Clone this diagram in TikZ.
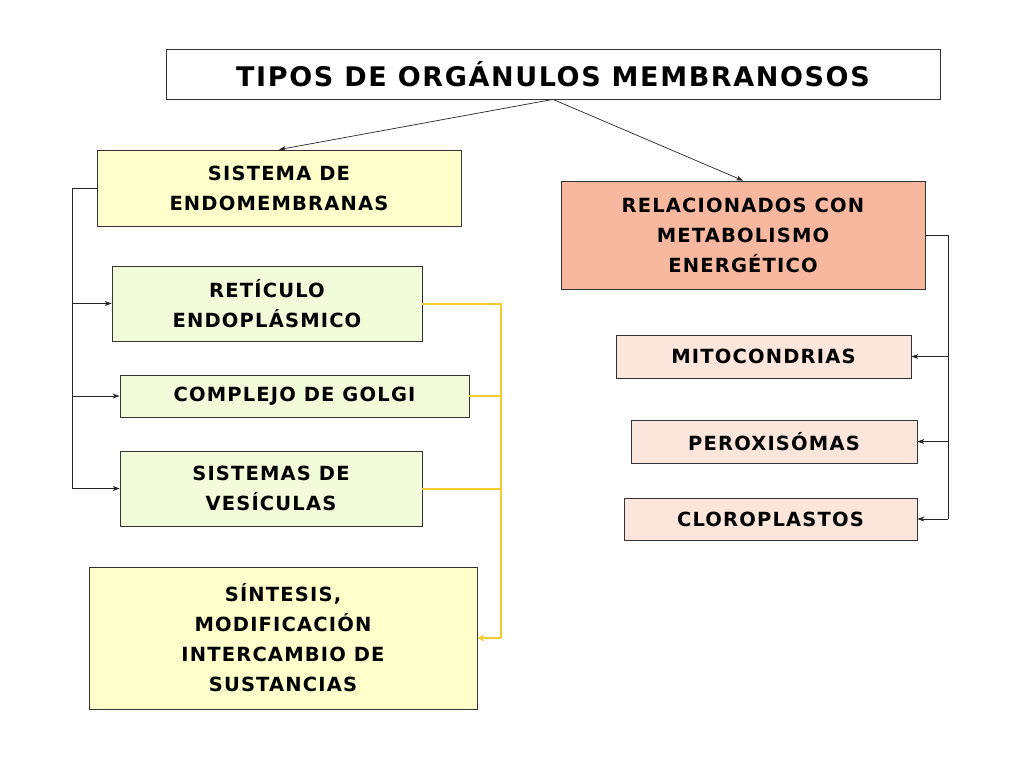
\documentclass[tikz,border=0pt]{standalone}
\usepackage{fontspec}
\setmainfont{DejaVu Sans}[LetterSpace=6]
\usetikzlibrary{arrows.meta}
\definecolor{ly}{HTML}{FFFFCC}
\definecolor{lg}{HTML}{F2FCDA}
\definecolor{sal}{HTML}{F7B89F}
\definecolor{lp}{HTML}{FCE6DC}
\definecolor{yl}{HTML}{F2CB2E}
\begin{document}
\begin{tikzpicture}[x=1pt,y=-1pt,
 bx/.style={draw=black!80,line width=0.8pt,align=center,font=\bfseries\fontsize{19.5}{30}\selectfont,inner sep=0pt},
 con/.style={draw=black!85,line width=0.7pt,-{Stealth[length=7pt,width=5pt]}},
 ycon/.style={draw=yl,line width=2pt}]
\useasboundingbox[fill=white] (0,0) rectangle (1024,768);
\node[bx,fill=white,minimum width=774,minimum height=50,font=\bfseries\fontsize{27}{30}\selectfont] (t) at (553,74) {TIPOS DE ORGÁNULOS MEMBRANOSOS};
\node[bx,fill=ly,minimum width=364,minimum height=76] (se) at (279,188) {SISTEMA DE\\ENDOMEMBRANAS};
\node[bx,fill=sal,minimum width=364,minimum height=108] (rel) at (743,235) {RELACIONADOS CON\\METABOLISMO\\ENERGÉTICO};
\node[bx,fill=lg,minimum width=310,minimum height=75] (re) at (267,303.5) {RETÍCULO\\ENDOPLÁSMICO};
\node[bx,fill=lg,minimum width=349,minimum height=42] (cg) at (294.5,396) {COMPLEJO DE GOLGI};
\node[bx,fill=lg,minimum width=302,minimum height=75] (sv) at (271,488.5) {SISTEMAS DE\\VESÍCULAS};
\node[bx,fill=ly,minimum width=388,minimum height=142] (si) at (283,638) {SÍNTESIS,\\MODIFICACIÓN\\INTERCAMBIO DE\\SUSTANCIAS};
\node[bx,fill=lp,minimum width=295,minimum height=43] (mi) at (763.5,356.5) {MITOCONDRIAS};
\node[bx,fill=lp,minimum width=286,minimum height=43] (pe) at (774,441.5) {PEROXISÓMAS};
\node[bx,fill=lp,minimum width=293,minimum height=42] (cl) at (770.5,519) {CLOROPLASTOS};
\draw[con] (t.south) -- (se.north);
\draw[con] (t.south) -- (rel.north);
\coordinate (lb) at (72,188);
\draw[draw=black!85,line width=0.7pt] (se.west) -- (lb) -- (72,488.5);
\draw[con] (72,303.5) -- (re.west);
\draw[con] (72,396) -- (cg.west);
\draw[con] (72,488.5) -- (sv.west);
\coordinate (rb) at (948,235);
\draw[draw=black!85,line width=0.7pt] (rel.east) -- (rb) -- (948,519);
\draw[con] (948,356.5) -- (mi.east);
\draw[con] (948,441.5) -- (pe.east);
\draw[con] (948,519) -- (cl.east);
\draw[ycon] (re.east) -- (501,303.5) -- (501,638);
\draw[ycon] (cg.east) -- (501,396);
\draw[ycon] (sv.east) -- (501,488.5);
\draw[ycon,-{Stealth[length=7pt,width=7pt]}] (501,638) -- (si.east);
\end{tikzpicture}
\end{document}
